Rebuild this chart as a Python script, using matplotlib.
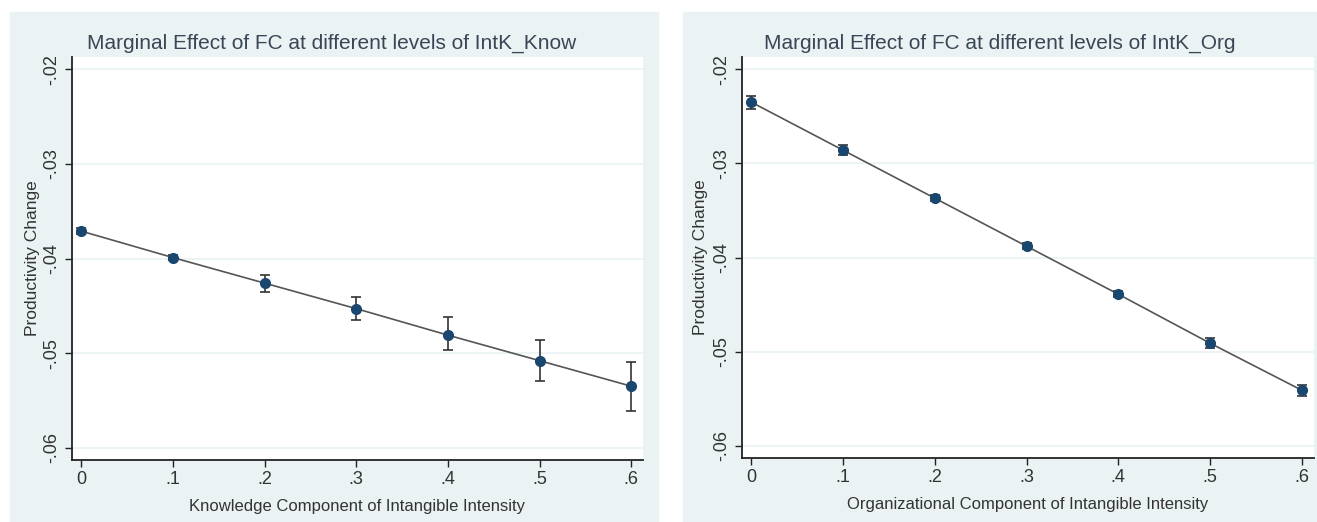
import matplotlib
matplotlib.use("Agg")
import matplotlib.pyplot as plt
from matplotlib.patches import Rectangle
from matplotlib.ticker import FuncFormatter

# levels of intangible intensity
levels = [0.0, 0.1, 0.2, 0.3, 0.4, 0.5, 0.6]

# knowledge component: marginal effect and 95% CI bounds
know_effect = [-0.0371, -0.0399, -0.0426, -0.0453, -0.0481, -0.0508, -0.0535]
know_lower = [-0.0374, -0.0402, -0.0435, -0.0465, -0.0497, -0.0529, -0.0561]
know_upper = [-0.0368, -0.0396, -0.0417, -0.0441, -0.0462, -0.0486, -0.0509]

# organizational component
org_effect = [-0.0235, -0.0286, -0.0337, -0.0388, -0.0439, -0.0491, -0.0541]
org_lower = [-0.0242, -0.0291, -0.0340, -0.0391, -0.0442, -0.0496, -0.0547]
org_upper = [-0.0228, -0.0281, -0.0334, -0.0385, -0.0436, -0.0486, -0.0535]

y_ticks = [-0.06, -0.05, -0.04, -0.03, -0.02]

titles = ["Marginal Effect of FC at different levels of IntK_Know",
          "Marginal Effect of FC at different levels of IntK_Org"]
xlabels = ["Knowledge Component of Intangible Intensity",
           "Organizational Component of Intangible Intensity"]

plt.rcParams['font.family'] = ["Liberation Sans", "DejaVu Sans"]

panel_bg = '#eaf2f3'
navy = '#1a476f'
text_col = '#333333'


def strip_zero(v, pos):
    s = "%g" % round(v, 3)
    return s.replace("0.", ".") if v != 0 else "0"


def draw(ax, effect, lower, upper, title, xlabel, title_x, ylab_x):
    ax.set_facecolor('white')
    ax.set_xlim(-0.0105, 0.6128)
    ax.set_ylim(-0.0613, -0.0187)
    ax.set_xticks(levels)
    ax.set_yticks(y_ticks)
    ax.xaxis.set_major_formatter(FuncFormatter(strip_zero))
    ax.yaxis.set_major_formatter(FuncFormatter(strip_zero))
    ax.grid(axis='y', color=panel_bg, linewidth=1.2)
    ax.set_axisbelow(True)
    for side in ['top', 'right']:
        ax.spines[side].set_visible(False)
    for side in ['left', 'bottom']:
        ax.spines[side].set_color('#222222')
        ax.spines[side].set_linewidth(1.3)
    ax.tick_params(axis='both', length=5, width=1, color='#222222',
                   labelsize=13, labelcolor=text_col, pad=3)
    for lab in ax.get_yticklabels():
        lab.set_rotation(90)
        lab.set_va('center')

    yerr = [[e - lo for e, lo in zip(effect, lower)],
            [hi - e for e, hi in zip(effect, upper)]]
    ax.plot(levels, effect, color='#555555', linewidth=1.2, zorder=2)
    ax.errorbar(levels, effect, yerr=yerr, fmt='none', ecolor='#333333',
                elinewidth=1.2, capsize=3.5, capthick=1.2, zorder=3)
    ax.plot(levels, effect, 'o', color=navy, markersize=7, zorder=4)

    ax.set_title(title, fontsize=15, color='#3a4655', pad=6, x=title_x)
    ax.set_xlabel(xlabel, fontsize=12, color=text_col, labelpad=8)
    ax.set_ylabel("Productivity Change", fontsize=12.5, color=text_col)
    ax.yaxis.set_label_coords(ylab_x, 0.5)


fig = plt.figure(figsize=(13.17, 5.22), dpi=100)
fig.patches.append(Rectangle((10 / 1317, 0), 648 / 1317, 510 / 522,
                             transform=fig.transFigure, color=panel_bg, zorder=-10))
fig.patches.append(Rectangle((683 / 1317, 0), 634 / 1317, 510 / 522,
                             transform=fig.transFigure, color=panel_bg, zorder=-10))

ax1 = fig.add_axes([71.5 / 1317, 62 / 522, 571.5 / 1317, 403 / 522])
ax2 = fig.add_axes([741.7 / 1317, 64 / 522, 571.8 / 1317, 401 / 522])

draw(ax1, know_effect, know_lower, know_upper, titles[0], xlabels[0], 0.456, -0.055)
draw(ax2, org_effect, org_lower, org_upper, titles[1], xlabels[1], 0.452, -0.059)

fig.savefig("out.png", dpi=100)
